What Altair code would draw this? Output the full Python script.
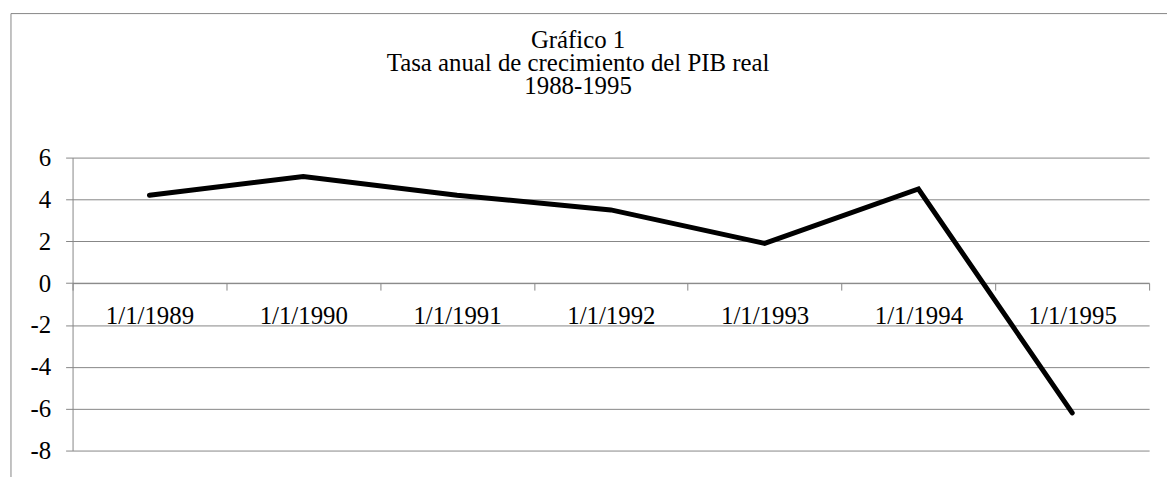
import altair as alt
import pandas as pd

years = ["1/1/1989", "1/1/1990", "1/1/1991", "1/1/1992", "1/1/1993", "1/1/1994", "1/1/1995"]
growth = [4.2, 5.1, 4.2, 3.5, 1.9, 4.5, -6.2]
y_ticks = [-8, -6, -4, -2, 0, 2, 4, 6]
title_lines = ["Gráfico 1", "Tasa anual de crecimiento del PIB real", "1988-1995"]

df = pd.DataFrame({"fecha": years, "pib": growth})

W, H = 1084, 295
GREY = "#868686"
FONT = "Liberation Serif, Times New Roman, serif"

zero_from_bottom = H * (0 - min(y_ticks)) / (max(y_ticks) - min(y_ticks))

line = alt.Chart(df).mark_line(
    color="black", strokeWidth=5, strokeCap="round", strokeJoin="miter"
).encode(
    x=alt.X("fecha:N", sort=years,
            scale=alt.Scale(type="band", paddingInner=0, paddingOuter=0),
            axis=alt.Axis(title=None, labelAngle=0, tickBand="extent",
                          offset=-zero_from_bottom, domainColor=GREY, tickColor=GREY,
                          tickSize=7, labelPadding=14, labelFontSize=25,
                          labelColor="black", grid=False, labelFont=FONT)),
    y=alt.Y("pib:Q", scale=alt.Scale(domain=[-8, 6], nice=False, zero=False),
            axis=alt.Axis(title=None, values=y_ticks, domainColor=GREY, tickColor=GREY,
                          tickSize=7, labelPadding=15, labelFontSize=25,
                          labelExpr="'' + datum.value",
                          labelColor="black", gridColor=GREY, grid=True, labelFont=FONT)),
)

frame = alt.Chart(pd.DataFrame({"a": [0]})).mark_rect(
    fill="transparent", stroke=GREY, strokeWidth=1, clip=False
).encode(
    x=alt.value(-62), x2=alt.value(W + 40), y=alt.value(-145), y2=alt.value(H + 40)
)

chart = alt.layer(frame, line).properties(
    width=W, height=H,
    autosize=alt.AutoSizeParams(type="none"),
    padding={"left": 65, "top": 149, "right": 18, "bottom": 25},
    title=alt.TitleParams(text=title_lines, font=FONT, fontSize=25, fontWeight="normal",
                          color="black", lineHeight=23, anchor="middle", frame="group",
                          baseline="alphabetic", dx=-33, offset=-106),
).configure(font=FONT).configure_view(stroke=None)

chart.save("out.html", embed_options={"renderer": "svg", "actions": False})
